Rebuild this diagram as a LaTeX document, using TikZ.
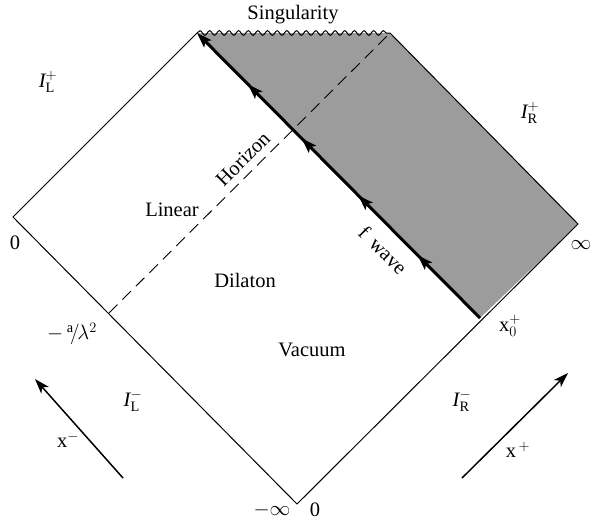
\documentclass[tikz,border=0pt]{standalone}
\usepackage{fontspec}
\setmainfont{Liberation Serif}
\usetikzlibrary{decorations.pathmorphing,decorations.markings,arrows.meta}
\definecolor{shadegray}{RGB}{156,156,156}
\begin{document}
\begin{tikzpicture}[x=1pt,y=-1pt,
  lbl/.style={font=\fontsize{20.5}{23}\selectfont, inner sep=0pt},
  edgeline/.style={line width=1pt},
  horizonline/.style={line width=0.9pt, dash pattern=on 12pt off 7pt},
  fwaveline/.style={line width=3pt,
    -{Stealth[length=15pt,width=10pt,inset=3pt]},
    postaction={decorate},
    decoration={markings,
      mark=at position 0.22 with {\arrow{Stealth[length=15pt,width=10pt,inset=3pt]}},
      mark=at position 0.43 with {\arrow{Stealth[length=15pt,width=10pt,inset=3pt]}},
      mark=at position 0.63 with {\arrow{Stealth[length=15pt,width=10pt,inset=3pt]}},
      mark=at position 0.82 with {\arrow{Stealth[length=15pt,width=10pt,inset=3pt]}}}},
  axisarrow/.style={line width=1.5pt, -{Stealth[length=15pt,width=10pt,inset=4pt]}}
]
\useasboundingbox (0,0) rectangle (593,523);
\coordinate (L) at (13,217);
\coordinate (B) at (297,504);
\coordinate (R) at (578,224);
\coordinate (TL) at (197,33);
\coordinate (TR) at (390,33);
\coordinate (X0) at (480,318);
\coordinate (H0) at (109,313);
\coordinate (xmT) at (123,478);
\coordinate (xmH) at (35,379);
\coordinate (xpT) at (462,478);
\coordinate (xpH) at (568,373);

% shaded region
\fill[shadegray] (TL) -- (TR) -- (R) -- (X0) -- cycle;
% outline
\draw[edgeline] (TL) -- (L) -- (B) -- (R) -- (TR);
\draw[edgeline, decorate, decoration={snake, segment length=9.65pt, amplitude=2.3pt}] (TL) -- (TR);
% horizon
\draw[horizonline] (H0) -- (TR);
% f wave
\draw[fwaveline] (X0) -- (TL);
% axes
\draw[axisarrow] (xmT) -- (xmH);
\draw[axisarrow] (xpT) -- (xpH);

% labels
\node[lbl] (sing) at (293,15) {Singularity};
\node[lbl] (ILp) at (48,82) {$\mathit{I}^{+}_{\mathrm{L}}$};
\node[lbl] (IRp) at (530,113) {$\mathit{I}^{+}_{\mathrm{R}}$};
\node[lbl] (lin) at (172,210) {Linear};
\node[lbl, rotate=45] (hor) at (243,159) {Horizon};
\node[lbl] (dil) at (245,280) {Dilaton};
\node[lbl, rotate=-45] (fw) at (383,250) {f\, wave};
\node[lbl] (vac) at (312,350) {Vacuum};
\node[lbl] (zl) at (15,243) {0};
\node[lbl] (infr) at (581,245) {$\infty$};
\node[lbl] (x0) at (510,326) {$\mathrm{x}^{+}_{0}$};
\node[lbl] (al) at (72,334) {$-\,{}^{\mathrm{a}}\mkern-3mu/\mkern-2mu\lambda^{2}$};
\node[lbl] (ILm) at (133,401) {$\mathit{I}^{-}_{\mathrm{L}}$};
\node[lbl] (IRm) at (462,401) {$\mathit{I}^{-}_{\mathrm{R}}$};
\node[lbl] (xm) at (68,440) {$\mathrm{x}^{-}$};
\node[lbl] (xp) at (518,450) {$\mathrm{x}^{\,+}$};
\node[lbl] (minf) at (272,510) {$-\infty$};
\node[lbl] (zb) at (315,510) {0};
\end{tikzpicture}
\end{document}
